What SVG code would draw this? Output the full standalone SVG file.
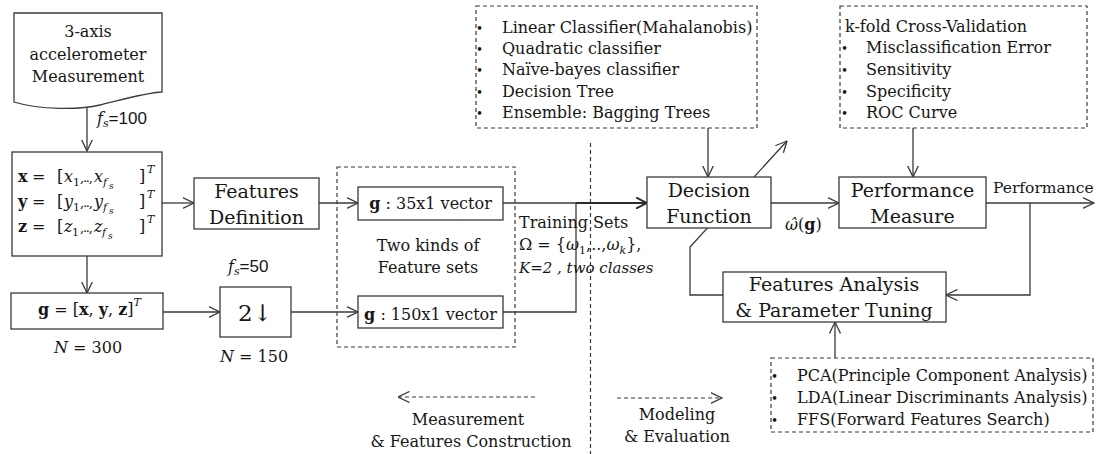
<svg xmlns="http://www.w3.org/2000/svg" width="1104" height="454" viewBox="0 0 1104 454">
<style>
svg{font-size:16px}
text{font-family:"DejaVu Serif","Liberation Serif",serif;fill:#161616}
.b{fill:#fff;stroke:#3a3a3a;stroke-width:1.3}
.d{fill:none;stroke:#3a3a3a;stroke-width:1.2;stroke-dasharray:4 3}
.c{fill:none;stroke:#3a3a3a;stroke-width:1.3}
.t19{font-size:19px}
.mid{text-anchor:middle}
.i{font-style:italic}
.bd{font-weight:bold}
.s{font-family:"Liberation Sans",Arial,sans-serif}
.dots{font-size:13px;letter-spacing:-1.2px}
</style>
<defs>
<marker id="a" viewBox="0 0 12 12" refX="11.5" refY="6" markerWidth="12" markerHeight="12" markerUnits="userSpaceOnUse" orient="auto"><path d="M0,0.5 L11.5,6 L0,11.5" fill="none" stroke="#3a3a3a" stroke-width="1.3"/></marker>
<marker id="ab" viewBox="0 0 12 12" refX="11" refY="6" markerWidth="12" markerHeight="12" markerUnits="userSpaceOnUse" orient="auto"><path d="M0,0.5 L11,6 L0,11.5" fill="none" stroke="#2a2a2a" stroke-width="2"/></marker>
</defs>

<g id="connectors">
<line class="c" x1="87" y1="108" x2="87" y2="151" marker-end="url(#a)"/>
<line class="c" x1="162" y1="203" x2="194" y2="203" marker-end="url(#a)"/>
<line class="c" x1="319" y1="203" x2="358" y2="203" marker-end="url(#a)"/>
<line class="c" x1="87" y1="256" x2="87" y2="293" marker-end="url(#a)"/>
<line class="c" x1="163" y1="312" x2="220" y2="312" marker-end="url(#a)"/>
<line class="c" x1="291" y1="312" x2="358" y2="312" marker-end="url(#a)"/>
<line class="c" x1="503" y1="203" x2="577" y2="203"/>
<polyline class="c" points="503,312 576,312 576,203"/>
<line x1="576" y1="203" x2="647" y2="203" stroke="#2a2a2a" stroke-width="2" marker-end="url(#ab)"/>
<line class="c" x1="708" y1="128" x2="708" y2="177" marker-end="url(#a)"/>
<line class="c" x1="771" y1="203" x2="839" y2="203" marker-end="url(#a)"/>
<line class="c" x1="913" y1="128" x2="913" y2="177" marker-end="url(#a)"/>
<line class="c" x1="986" y1="203" x2="1094" y2="203" marker-end="url(#a)"/>
<polyline class="c" points="1030,203 1030,295 946,295" marker-end="url(#a)"/>
<polyline class="c" points="723,295 690,295 690,247 787,141" marker-end="url(#a)"/>
<line class="c" x1="835" y1="358" x2="835" y2="322" marker-end="url(#a)"/>
<line class="d" x1="590.5" y1="143" x2="590.5" y2="454"/>
<line class="d" x1="535" y1="397" x2="398" y2="397" marker-end="url(#a)"/>
<line class="d" x1="617" y1="398" x2="722" y2="398" marker-end="url(#a)"/>
</g>

<g id="measurement">
<path class="b" d="M14,13 H162 V92 C145,93 125,99 100,105 C80,110 40,110 14,102 Z"/>
<text class="mid" x="88" y="37">3-axis</text>
<text class="mid" x="88" y="60">accelerometer</text>
<text class="mid" x="88" y="82">Measurement</text>
</g>
<g id="fs100"><text x="97" y="124"><tspan class="i">f</tspan><tspan class="i" font-size="11" dy="3">s</tspan><tspan class="s" font-size="17" dy="-3">=100</tspan></text></g>

<g id="signals">
<rect class="b" x="12" y="152" width="150" height="104"/>
<text y="182"><tspan x="18" class="bd">x</tspan><tspan x="32">=</tspan><tspan x="57">[</tspan><tspan x="64" class="i">x</tspan><tspan x="73" font-size="11" dy="4">1</tspan><tspan x="80" class="dots" dy="-4">,..,</tspan><tspan x="94" class="i">x</tspan><tspan x="103" class="i" font-size="11" dy="4">f</tspan><tspan x="109" class="i" font-size="9" dy="3">s</tspan><tspan x="139" dy="-7">]</tspan><tspan x="147" class="i" font-size="11" dy="-9">T</tspan></text>
<text y="207"><tspan x="18" class="bd">y</tspan><tspan x="32">=</tspan><tspan x="57">[</tspan><tspan x="64" class="i">y</tspan><tspan x="73" font-size="11" dy="4">1</tspan><tspan x="80" class="dots" dy="-4">,..,</tspan><tspan x="94" class="i">y</tspan><tspan x="103" class="i" font-size="11" dy="4">f</tspan><tspan x="109" class="i" font-size="9" dy="3">s</tspan><tspan x="139" dy="-7">]</tspan><tspan x="147" class="i" font-size="11" dy="-9">T</tspan></text>
<text y="232"><tspan x="18" class="bd">z</tspan><tspan x="32">=</tspan><tspan x="57">[</tspan><tspan x="64" class="i">z</tspan><tspan x="72" font-size="11" dy="4">1</tspan><tspan x="80" class="dots" dy="-4">,..,</tspan><tspan x="94" class="i">z</tspan><tspan x="102" class="i" font-size="11" dy="4">f</tspan><tspan x="108" class="i" font-size="9" dy="3">s</tspan><tspan x="139" dy="-7">]</tspan><tspan x="147" class="i" font-size="11" dy="-9">T</tspan></text>
</g>

<g id="features-definition">
<rect class="b" x="194" y="178" width="125" height="51"/>
<text class="mid t19" x="256.5" y="198">Features</text>
<text class="mid t19" x="256.5" y="224">Definition</text>
</g>

<g id="g-vector">
<rect class="b" x="11" y="293" width="152" height="36"/>
<text x="38" y="315"><tspan class="bd">g</tspan> = [<tspan class="bd">x</tspan>, <tspan class="bd">y</tspan>, <tspan class="bd">z</tspan>]<tspan class="i" font-size="11" dy="-9">T</tspan></text>
</g>
<g id="n300"><text class="mid" x="88" y="353"><tspan class="i">N</tspan> = 300</text></g>

<g id="downsample">
<rect class="b" x="220" y="287" width="71" height="50"/>
<text class="mid" x="255" y="321" font-size="23" font-family="DejaVu Serif, DejaVu Sans, serif">2↓</text>
</g>
<g id="fs50"><text x="228" y="272"><tspan class="i">f</tspan><tspan class="i" font-size="11" dy="3">s</tspan><tspan class="s" font-size="17" dy="-3">=50</tspan></text></g>
<g id="n150"><text class="mid" x="254" y="362"><tspan class="i">N</tspan> = 150</text></g>

<g id="feature-sets">
<rect class="d" x="337" y="167" width="178" height="180"/>
<text class="mid" x="428" y="251">Two kinds of</text>
<text class="mid" x="428" y="273">Feature sets</text>
</g>
<g id="g35">
<rect class="b" x="358" y="187" width="145" height="33"/>
<text class="mid" x="430.5" y="209"><tspan class="bd">g</tspan> : 35x1 vector</text>
</g>
<g id="g150">
<rect class="b" x="358" y="296" width="145" height="32"/>
<text class="mid" x="430.5" y="320"><tspan class="bd">g</tspan> : 150x1 vector</text>
</g>

<g id="training-sets">
<text x="519" y="228">Training Sets</text>
<text x="519" y="250">Ω = {<tspan class="i">ω</tspan><tspan font-size="11" dy="4">1</tspan><tspan dy="-4">,..,</tspan><tspan class="i">ω</tspan><tspan class="i" font-size="11" dy="4">k</tspan><tspan dy="-4">},</tspan></text>
<text class="i" x="519" y="273" font-size="15">K=2 , two classes</text>
</g>

<g id="classifiers">
<rect class="d" x="476" y="6" width="281" height="122"/>
<text y="33"><tspan x="476" font-size="12">•</tspan><tspan x="502">Linear Classifier(Mahalanobis)</tspan></text>
<text y="54"><tspan x="476" font-size="12">•</tspan><tspan x="502">Quadratic classifier</tspan></text>
<text y="75"><tspan x="476" font-size="12">•</tspan><tspan x="502">Naïve-bayes classifier</tspan></text>
<text y="97"><tspan x="476" font-size="12">•</tspan><tspan x="502">Decision Tree</tspan></text>
<text y="118"><tspan x="476" font-size="12">•</tspan><tspan x="502">Ensemble: Bagging Trees</tspan></text>
</g>

<g id="decision-function">
<rect class="b" x="647" y="177" width="124" height="51"/>
<text class="mid t19" x="709" y="197">Decision</text>
<text class="mid t19" x="709" y="223">Function</text>
</g>
<g id="omega-hat"><text x="785" y="230"><tspan class="i">ω̂</tspan>(<tspan class="bd">g</tspan>)</text></g>

<g id="validation">
<rect class="d" x="840" y="6" width="247" height="122"/>
<text x="845" y="32">k-fold Cross-Validation</text>
<text y="53"><tspan x="841" font-size="12">•</tspan><tspan x="866">Misclassification Error</tspan></text>
<text y="75"><tspan x="841" font-size="12">•</tspan><tspan x="866">Sensitivity</tspan></text>
<text y="97"><tspan x="841" font-size="12">•</tspan><tspan x="866">Specificity</tspan></text>
<text y="118"><tspan x="841" font-size="12">•</tspan><tspan x="866">ROC Curve</tspan></text>
</g>

<g id="performance-measure">
<rect class="b" x="839" y="177" width="147" height="51"/>
<text class="mid t19" x="912.5" y="197">Performance</text>
<text class="mid t19" x="912.5" y="223">Measure</text>
</g>
<g id="performance-label"><text x="993" y="193" font-size="15.5">Performance</text></g>

<g id="features-analysis">
<rect class="b" x="723" y="272" width="223" height="50"/>
<text class="mid t19" x="834" y="291">Features Analysis</text>
<text class="mid t19" x="834" y="317">&amp; Parameter Tuning</text>
</g>

<g id="analysis-methods">
<rect class="d" x="771" y="358" width="322" height="74"/>
<text y="381"><tspan x="771" font-size="12">•</tspan><tspan x="797">PCA(Principle Component Analysis)</tspan></text>
<text y="403"><tspan x="771" font-size="12">•</tspan><tspan x="797">LDA(Linear Discriminants Analysis)</tspan></text>
<text y="425"><tspan x="771" font-size="12">•</tspan><tspan x="797">FFS(Forward Features Search)</tspan></text>
</g>

<g id="phase-labels">
<text class="mid" x="468" y="425">Measurement</text>
<text class="mid" x="471" y="447">&amp; Features Construction</text>
<text class="mid" x="677" y="420">Modeling</text>
<text class="mid" x="677" y="442">&amp; Evaluation</text>
</g>
</svg>
